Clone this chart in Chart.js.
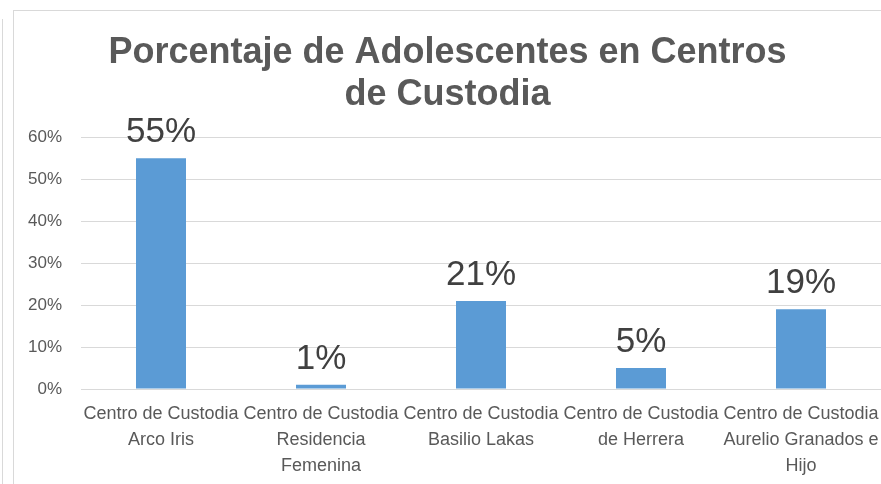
<!DOCTYPE html>
<html>
<head>
<meta charset="utf-8">
<script src="https://cdn.jsdelivr.net/npm/chart.js@4"></script>
<style>
  html, body { margin: 0; padding: 0; background: #fff; overflow: hidden; }
  body { width: 881px; height: 484px; position: relative; }
  .side-line { position: absolute; left: 2px; top: 19px; width: 1px; height: 470px; background: #d9d9d9; }
  .chart-box { position: absolute; left: 13px; top: 10px; width: 900px; height: 500px; border: 1px solid #d9d9d9; }
  .chart-wrap { position: absolute; left: 14px; top: 11px; width: 867px; height: 473px; }
</style>
</head>
<body>
<div class="side-line"></div>
<div class="chart-box"></div>
<div class="chart-wrap"><canvas id="chart"></canvas></div>
<script>
// Datos del gráfico
const titleLines = ['Porcentaje de Adolescentes en Centros', 'de Custodia'];
const categories = [
    ['Centro de Custodia', 'Arco Iris'],
    ['Centro de Custodia', 'Residencia', 'Femenina'],
    ['Centro de Custodia', 'Basilio Lakas'],
    ['Centro de Custodia', 'de Herrera'],
    ['Centro de Custodia', 'Aurelio Granados e', 'Hijo']
];
const percentages = [55, 1, 21, 5, 19];
const valueLabels = ['55%', '1%', '21%', '5%', '19%'];
const yTicks = [0, 10, 20, 30, 40, 50, 60];

const FONT = "'Liberation Sans', Arial, sans-serif";

// Etiquetas grandes encima de cada barra
const barLabels = {
    id: 'barLabels',
    afterDatasetsDraw(chart) {
        const ctx = chart.ctx;
        const meta = chart.getDatasetMeta(0);
        ctx.save();
        ctx.font = '35px ' + FONT;
        ctx.fillStyle = '#404040';
        ctx.textAlign = 'center';
        ctx.textBaseline = 'alphabetic';
        meta.data.forEach((bar, i) => {
            ctx.fillText(valueLabels[i], bar.x, bar.y - 16);
        });
        ctx.restore();
    }
};

new Chart(document.getElementById('chart'), {
    type: 'bar',
    data: {
        labels: categories,
        datasets: [{
            data: percentages,
            backgroundColor: '#5B9BD5',
            barPercentage: 0.625,
            categoryPercentage: 0.5
        }]
    },
    options: {
        responsive: true,
        maintainAspectRatio: false,
        animation: false,
        layout: { padding: { left: 0, right: 0, top: 0, bottom: 0 } },
        plugins: {
            legend: { display: false },
            tooltip: { enabled: false },
            title: {
                display: true,
                text: titleLines,
                color: '#595959',
                font: { family: FONT, size: 36, weight: 'bold', lineHeight: 1.17 },
                padding: { top: 21, bottom: 21 }
            }
        },
        scales: {
            x: {
                grid: { display: false, drawTicks: false },
                border: { display: false },
                ticks: {
                    color: '#595959',
                    font: { family: FONT, size: 18, lineHeight: 1.45 },
                    autoSkip: false,
                    maxRotation: 0,
                    minRotation: 0,
                    padding: 12
                },
                afterFit(scale) {
                    scale.height = 95;
                    scale.paddingLeft = 0;
                    scale.paddingRight = 0;
                }
            },
            y: {
                min: 0,
                max: 60,
                afterBuildTicks(scale) {
                    scale.ticks = yTicks.map(v => ({ value: v }));
                },
                grid: { color: '#d9d9d9', lineWidth: 1, drawTicks: false },
                border: { display: false },
                ticks: {
                    color: '#595959',
                    font: { family: FONT, size: 17 },
                    padding: 19,
                    callback: v => v + '%'
                },
                afterFit(scale) { scale.width = 67; }
            }
        }
    },
    plugins: [barLabels]
});
</script>
</body>
</html>
